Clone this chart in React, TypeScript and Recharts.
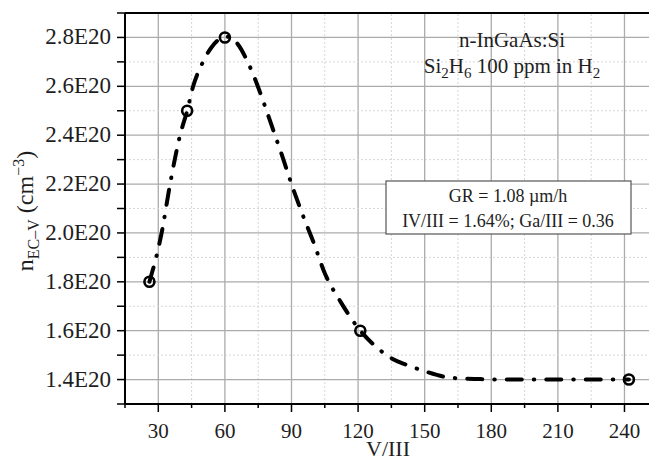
import React from 'react';
import { ComposedChart, Line, Scatter, XAxis, YAxis, ReferenceLine } from 'recharts';

// measured points
const measuredVIII = [26, 43, 60, 121, 242];
const measuredN = [1.8, 2.5, 2.8, 1.6, 1.4];

// dash-dot guide curve
const fitVIII = [26, 31.5, 35.3, 39.8, 43, 45.7, 49.6, 54, 58, 62, 66, 70, 74, 78, 82, 86, 90, 95, 100, 105, 112, 121, 128, 136, 142, 150, 162, 175, 190, 210, 242];
const fitN = [1.8, 2.0, 2.2, 2.4, 2.5, 2.6, 2.69, 2.76, 2.795, 2.803, 2.77, 2.705, 2.62, 2.52, 2.415, 2.31, 2.2, 2.075, 1.96, 1.835, 1.72, 1.6, 1.535, 1.482, 1.46, 1.434, 1.407, 1.402, 1.4, 1.4, 1.4];

const xTicks = [15, 30, 45, 60, 75, 90, 105, 120, 135, 150, 165, 180, 195, 210, 225, 240, 255];
const xMajor = [30, 60, 90, 120, 150, 180, 210, 240];
const yTicks = [1.3, 1.4, 1.5, 1.6, 1.7, 1.8, 1.9, 2.0, 2.1, 2.2, 2.3, 2.4, 2.5, 2.6, 2.7, 2.8, 2.9];
const yMajor = [1.4, 1.6, 1.8, 2.0, 2.2, 2.4, 2.6, 2.8];

const measured = measuredVIII.map((x, i) => ({ x, y: measuredN[i] }));
const fit = fitVIII.map((x, i) => ({ x, y: fitN[i] }));

const FONT = '"Liberation Serif", "Times New Roman", serif';
const TXT = '#1e1e1e';

const isXMajor = (v: number) => xMajor.includes(v);
const isYMajor = (v: number) => yMajor.some((m) => Math.abs(m - v) < 1e-6);

const XTick = (props: any) => {
  const { x, y, payload } = props;
  const major = isXMajor(payload.value);
  return (
    <g>
      <line x1={x} x2={x} y1={y} y2={y + (major ? 8 : 4)} stroke="#000" strokeWidth={1.5} />
      {major && (
        <text x={x} y={y + 34} textAnchor="middle" fontFamily={FONT} fontSize={21} fill={TXT}>
          {payload.value}
        </text>
      )}
    </g>
  );
};

const YTick = (props: any) => {
  const { x, y, payload } = props;
  const major = isYMajor(payload.value);
  return (
    <g>
      <line x1={x - 8} x2={x} y1={y} y2={y} stroke="#000" strokeWidth={1.5} />
      {major && (
        <text x={x - 14} y={y + 7} textAnchor="end" fontFamily={FONT} fontSize={23} fill={TXT}>
          {payload.value.toFixed(1) + 'E20'}
        </text>
      )}
    </g>
  );
};

const Marker = (props: any) => {
  const { cx, cy } = props;
  return <circle cx={cx} cy={cy} r={5} fill="none" stroke="#000" strokeWidth={2.6} />;
};

export default function App() {
  return (
    <div style={{ position: 'relative', width: 649, height: 455, overflow: 'hidden' }}>
      <ComposedChart width={652} height={455} margin={{ top: 5, right: 0, bottom: 0, left: 0 }}>
        <XAxis
          type="number"
          dataKey="x"
          domain={[15, 256]}
          ticks={xTicks}
          interval={0}
          height={59}
          tickSize={0}
          tickMargin={0}
          tickLine={false}
          tick={<XTick />}
          axisLine={{ stroke: '#000', strokeWidth: 2 }}
          allowDataOverflow
        />
        <YAxis
          type="number"
          dataKey="y"
          domain={[1.3, 2.9]}
          ticks={yTicks}
          interval={0}
          width={117}
          tickSize={0}
          tickMargin={0}
          tickLine={false}
          tick={<YTick />}
          axisLine={{ stroke: '#000', strokeWidth: 2 }}
          allowDataOverflow
        />
        {xTicks.map((v) => (
          <ReferenceLine
            key={'gx' + v}
            x={v}
            stroke={isXMajor(v) ? '#ababab' : '#d6d6d6'}
            strokeWidth={isXMajor(v) ? 1.3 : 1}
            strokeDasharray={isXMajor(v) ? undefined : '2 2'}
          />
        ))}
        {yTicks.map((v) => (
          <ReferenceLine
            key={'gy' + v}
            y={v}
            stroke={isYMajor(v) ? '#ababab' : '#d6d6d6'}
            strokeWidth={isYMajor(v) ? 1.3 : 1}
            strokeDasharray={isYMajor(v) ? undefined : '2 2'}
          />
        ))}
        <ReferenceLine y={2.9} stroke="#000" strokeWidth={2} />
        <Line
          data={fit}
          dataKey="y"
          type="monotone"
          stroke="#000"
          strokeWidth={4}
          strokeDasharray="15 12 0.5 12"
          strokeLinecap="round"
          dot={false}
          activeDot={false}
          isAnimationActive={false}
        />
        <Scatter data={measured} dataKey="y" shape={<Marker />} isAnimationActive={false} />
      </ComposedChart>
      <svg
        width={649}
        height={455}
        style={{ position: 'absolute', left: 0, top: 0, pointerEvents: 'none' }}
        fontFamily={FONT}
      >
        <text x={504} y={39} textAnchor="middle" fontSize={21} fill={TXT}>n-InGaAs:Si</text>
        <text x={504} y={65} textAnchor="middle" fontSize={21} fill={TXT}>
          <tspan>Si</tspan>
          <tspan fontSize={15} dy={5}>2</tspan>
          <tspan dy={-5}>H</tspan>
          <tspan fontSize={15} dy={5}>6</tspan>
          <tspan dy={-5}> 100 ppm in H</tspan>
          <tspan fontSize={15} dy={5}>2</tspan>
        </text>
        <rect x={378} y={173} width={245} height={53} fill="#fff" stroke="#555" strokeWidth={1.2} />
        <text x={500} y={194} textAnchor="middle" fontSize={18} fill={TXT}>GR = 1.08 µm/h</text>
        <text x={500} y={219} textAnchor="middle" fontSize={18} fill={TXT}>IV/III = 1.64%; Ga/III = 0.36</text>
        <text x={380} y={448} textAnchor="middle" fontSize={22} fill={TXT}>V/III</text>
        <text transform="translate(25,203) rotate(-90)" textAnchor="middle" fontSize={24} fill={TXT}>
          <tspan>n</tspan>
          <tspan fontSize={16} dy={6}>EC–V</tspan>
          <tspan dy={-6}> (cm</tspan>
          <tspan fontSize={16} dy={-9}>−3</tspan>
          <tspan dy={9}>)</tspan>
        </text>
      </svg>
    </div>
  );
}
